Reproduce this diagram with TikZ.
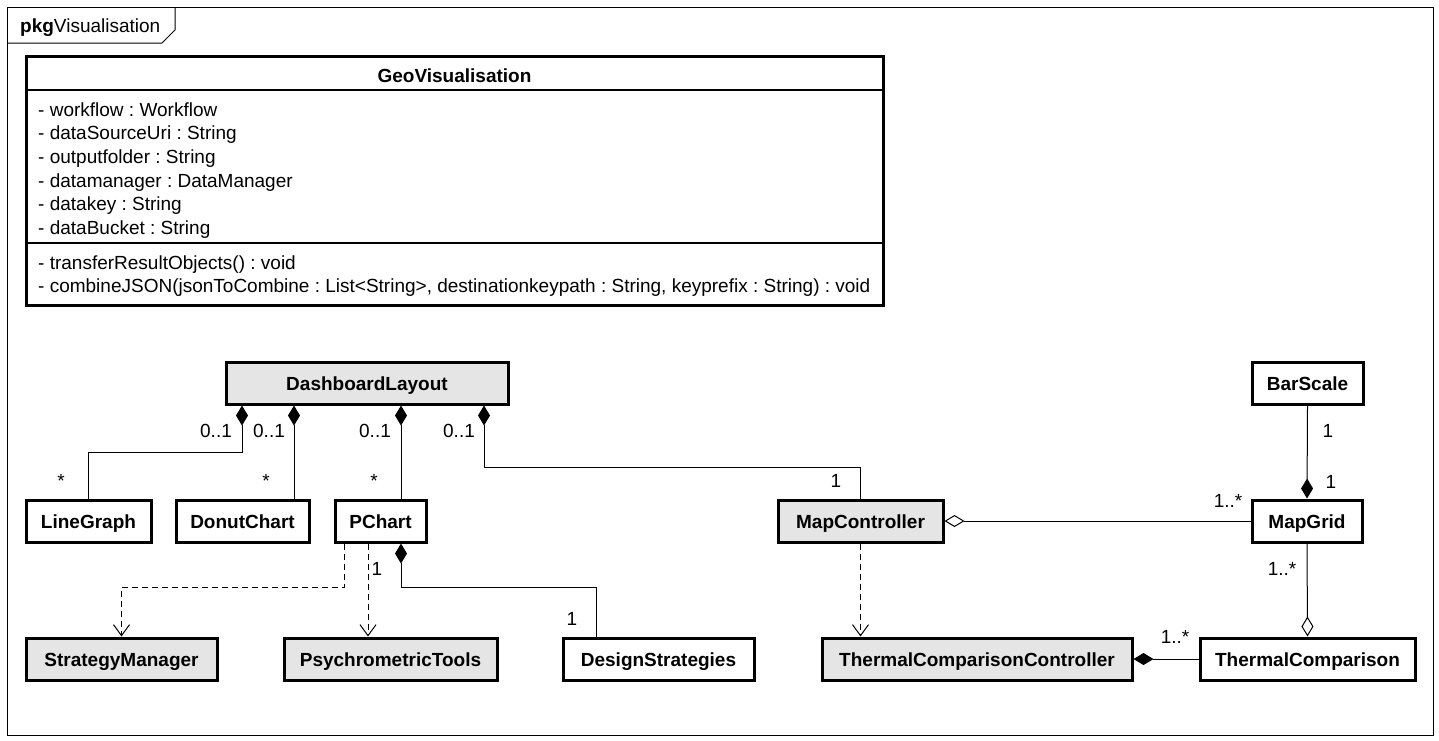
\documentclass[tikz,border=0pt]{standalone}
\usepackage{fontspec}
\setmainfont{Liberation Sans}
\usepackage{tikz}
\usetikzlibrary{arrows.meta, calc, positioning}
\newcommand{\umlfont}{\fontsize{19}{23.7}\selectfont}
\frenchspacing

\begin{document}
\begin{tikzpicture}[x=1pt, y=-1pt,
	every node/.style={font=\umlfont, inner sep=0pt},
	umlclass/.style={draw, line width=3pt, minimum height=42pt, text height=14pt, text depth=0pt, font=\umlfont\bfseries},
	shaded/.style={fill=black!10},
	link/.style={line width=1pt},
	comp/.style={link, {Diamond[length=20pt, width=12pt]}-},
	aggr/.style={link, {Diamond[open, length=20pt, width=12pt]}-},
	depend/.style={link, dash pattern=on 6pt off 4pt, -{Straight Barb[length=11pt, width=16pt]}},
	mult/.style={anchor=base}
	]

	\useasboundingbox (0,0) rectangle (1439,740);

	% package frame
	\draw[line width=1pt] (7,7) rectangle (1433,735);
	\draw[line width=1pt] (7,43) -- (162,43) -- (175,30) -- (175,7);
	\node[anchor=base west] (pkg) at (20,32) {\textbf{pkg}Visualisation};

	% GeoVisualisation
	\node[draw, line width=3pt, minimum width=857pt, minimum height=249pt] (geo) at (454.5,180.5) {};
	\draw[line width=1.5pt] (geo.west |- 0,90) -- (geo.east |- 0,90);
	\draw[line width=1.5pt] (geo.west |- 0,243) -- (geo.east |- 0,243);
	\node[anchor=base, font=\umlfont\bfseries] (geotitle) at (454.5,82) {GeoVisualisation};
	\foreach \attr [count=\i] in {- workflow : Workflow, - dataSourceUri : String, - outputfolder : String,
		- datamanager : DataManager, - datakey : String, - dataBucket : String}
		\node[anchor=base west] (attr\i) at (38,{116+23.7*(\i-1)}) {\attr};
	\node[anchor=base west] (meth1) at (38,269) {- transferResultObjects() : void};
	\node[anchor=base west] (meth2) at (38,292.7) {- combineJSON(jsonToCombine : List<String>, destinationkeypath : String, keyprefix : String) : void};

	% classes
	\node[umlclass, shaded, minimum width=282pt] (dash) at (367,383) {DashboardLayout};
	\node[umlclass, minimum width=111pt] (bar) at (1307.5,383) {BarScale};
	\node[umlclass, minimum width=125pt] (line) at (88.5,521) {LineGraph};
	\node[umlclass, minimum width=133pt] (donut) at (242.5,521) {DonutChart};
	\node[umlclass, minimum width=91pt] (pchart) at (380.5,521) {PChart};
	\node[umlclass, shaded, minimum width=165pt] (mapc) at (860.5,521) {MapController};
	\node[umlclass, minimum width=110pt] (mapgrid) at (1307,521) {MapGrid};
	\node[umlclass, shaded, minimum width=191pt] (strat) at (121.5,659) {StrategyManager};
	\node[umlclass, shaded, minimum width=213pt] (psy) at (390.5,659) {PsychrometricTools};
	\node[umlclass, minimum width=191pt] (design) at (658.5,659) {DesignStrategies};
	\node[umlclass, shaded, minimum width=310pt] (tcc) at (977,659) {ThermalComparisonController};
	\node[umlclass, minimum width=215pt] (tc) at (1307.5,659) {ThermalComparison};

	\coordinate (d1) at ([xshift=-125pt]dash.south);
	\coordinate (d2) at ([xshift=-73pt]dash.south);
	\coordinate (d3) at ([xshift=34pt]dash.south);
	\coordinate (d4) at ([xshift=117pt]dash.south);
	\coordinate (p1) at ([xshift=-36.5pt]pchart.south);
	\coordinate (p2) at ([xshift=-12.5pt]pchart.south);
	\coordinate (p3) at ([xshift=20.5pt]pchart.south);

	% associations
	\draw[comp] (d1) -- ++(0,47) -| (line.north);
	\draw[comp] (d2) -- (d2 |- donut.north);
	\draw[comp] (d3) -- (d3 |- pchart.north);
	\draw[comp] (d4) -- ++(0,62) -| (mapc.north);
	\draw[depend] (p1) -- ++(0,44) -| (strat.north);
	\draw[depend] (p2) -- (p2 |- psy.north);
	\draw[comp] (p3) -- ++(0,44) -| ([xshift=-62.5pt]design.north);
	\draw[depend] (mapc.south) -- (mapc.south |- tcc.north);
	\draw[aggr] (mapc.east) -- (mapgrid.west);
	\draw[comp] (mapgrid.north) -- (bar.south);
	\draw[aggr] (tc.north) -- (mapgrid.south);
	\draw[comp] (tcc.east) -- (tc.west);

	% multiplicities
	\node[mult] (m1) at (216,437) {0..1};
	\node[mult] (m2) at (61,487) {*};
	\node[mult] (m3) at (269,437) {0..1};
	\node[mult] (m4) at (266,487) {*};
	\node[mult] (m5) at (375,437) {0..1};
	\node[mult] (m6) at (374,487) {*};
	\node[mult] (m7) at (459,437) {0..1};
	\node[mult] (m8) at (836,487) {1};
	\node[mult] (m9) at (377,575) {1};
	\node[mult] (m10) at (572,625) {1};
	\node[mult] (m11) at (1328,437) {1};
	\node[mult] (m12) at (1331,488) {1};
	\node[mult] (m13) at (1228,507) {1..*};
	\node[mult] (m14) at (1282,575) {1..*};
	\node[mult] (m15) at (1175,643) {1..*};

\end{tikzpicture}
\end{document}
